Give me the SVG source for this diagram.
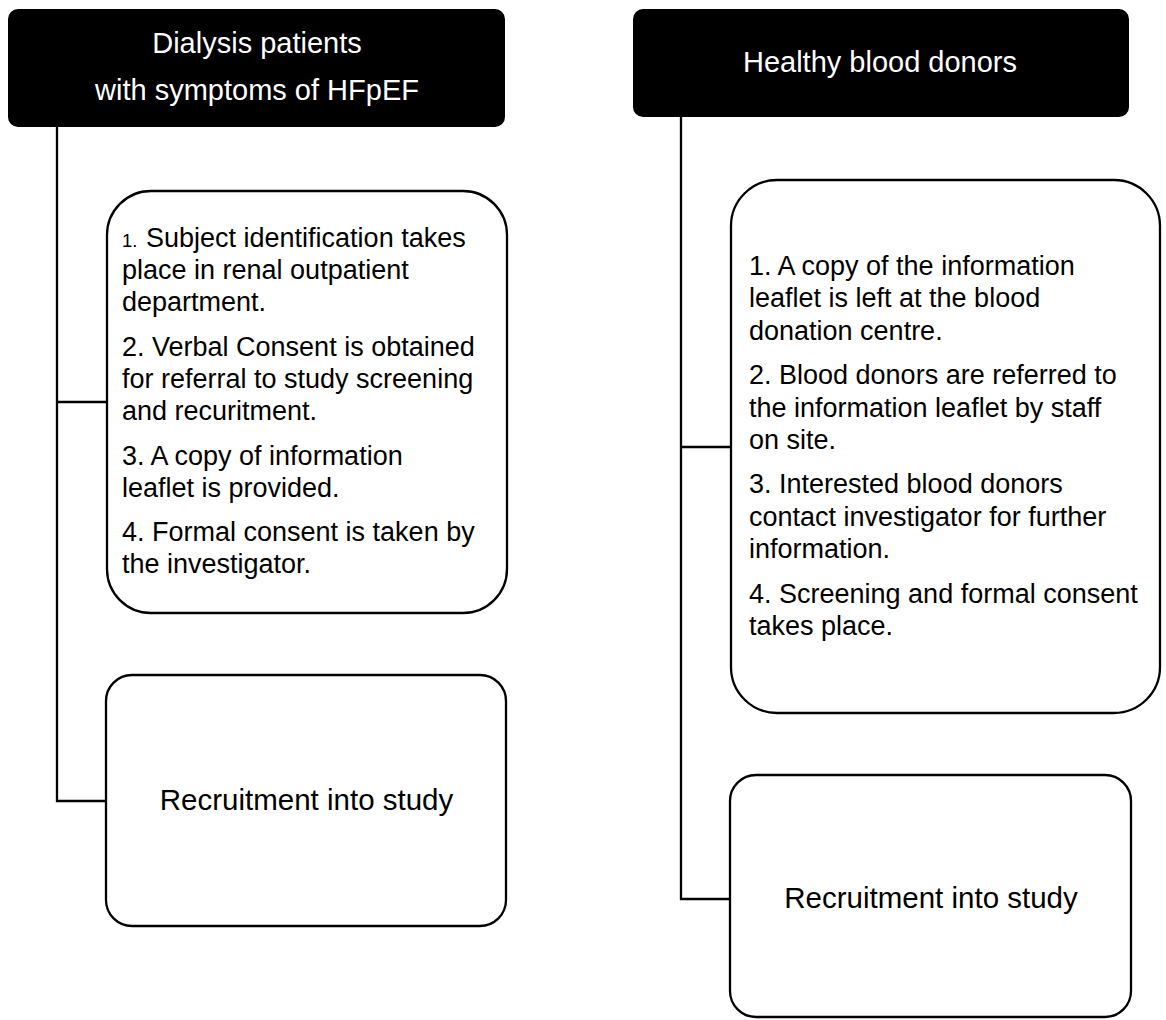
<svg xmlns="http://www.w3.org/2000/svg" width="1166" height="1020" viewBox="0 0 1166 1020">
<style>
.hdr{fill:#000;}
.hdrt{fill:#fff;font-family:"Liberation Sans",Arial,sans-serif;font-size:29px;text-anchor:middle;}
.box{fill:#fff;stroke:#000;stroke-width:2.3;}
.bt{fill:#000;font-family:"Liberation Sans",Arial,sans-serif;font-size:27px;}
.rt{fill:#000;font-family:"Liberation Sans",Arial,sans-serif;font-size:29.5px;text-anchor:middle;}
.conn{fill:none;stroke:#000;stroke-width:2.3;}
</style>
<rect width="1166" height="1020" fill="#fff"/>
<g id="connectors">
<path class="conn" d="M57,127 V801 H106"/>
<path class="conn" d="M57,402 H106"/>
<path class="conn" d="M681,117 V899 H730"/>
<path class="conn" d="M681,447 H730"/>
</g>
<g id="header-left">
<rect class="hdr" x="8" y="9" width="497" height="118" rx="10"/>
<text class="hdrt" x="257" y="53">Dialysis patients</text>
<text class="hdrt" x="257" y="100">with symptoms of HFpEF</text>
</g>
<g id="steps-left">
<rect class="box" x="107" y="191" width="400" height="422" rx="44"/>
<text class="bt" x="122" y="246.7"><tspan font-size="18.5">1. </tspan><tspan x="146">Subject identification takes</tspan></text>
<text class="bt" x="122" y="279">place in renal outpatient</text>
<text class="bt" x="122" y="311.3">department.</text>
<text class="bt" x="122" y="355.6">2. Verbal Consent is obtained</text>
<text class="bt" x="122" y="387.9">for referral to study screening</text>
<text class="bt" x="122" y="420.2">and recuritment.</text>
<text class="bt" x="122" y="464.5">3. A copy of information</text>
<text class="bt" x="122" y="496.8">leaflet is provided.</text>
<text class="bt" x="122" y="541.1">4. Formal consent is taken by</text>
<text class="bt" x="122" y="573.4">the investigator.</text>
</g>
<g id="recruit-left">
<rect class="box" x="106" y="675" width="400" height="251" rx="26"/>
<text class="rt" x="306.5" y="810">Recruitment into study</text>
</g>
<g id="header-right">
<rect class="hdr" x="633" y="9" width="496" height="108" rx="10"/>
<text class="hdrt" x="880" y="72">Healthy blood donors</text>
</g>
<g id="steps-right">
<rect class="box" x="731" y="180" width="429" height="533" rx="46"/>
<text class="bt" x="749" y="275">1. A copy of the information</text>
<text class="bt" x="749" y="307.4">leaflet is left at the blood</text>
<text class="bt" x="749" y="339.8">donation centre.</text>
<text class="bt" x="749" y="384.2">2. Blood donors are referred to</text>
<text class="bt" x="749" y="416.6">the information leaflet by staff</text>
<text class="bt" x="749" y="449">on site.</text>
<text class="bt" x="749" y="493.4">3. Interested blood donors</text>
<text class="bt" x="749" y="525.8">contact investigator for further</text>
<text class="bt" x="749" y="558.2">information.</text>
<text class="bt" x="749" y="602.6">4. Screening and formal consent</text>
<text class="bt" x="749" y="635">takes place.</text>
</g>
<g id="recruit-right">
<rect class="box" x="730" y="775" width="401" height="242" rx="26"/>
<text class="rt" x="931" y="908">Recruitment into study</text>
</g>
</svg>
